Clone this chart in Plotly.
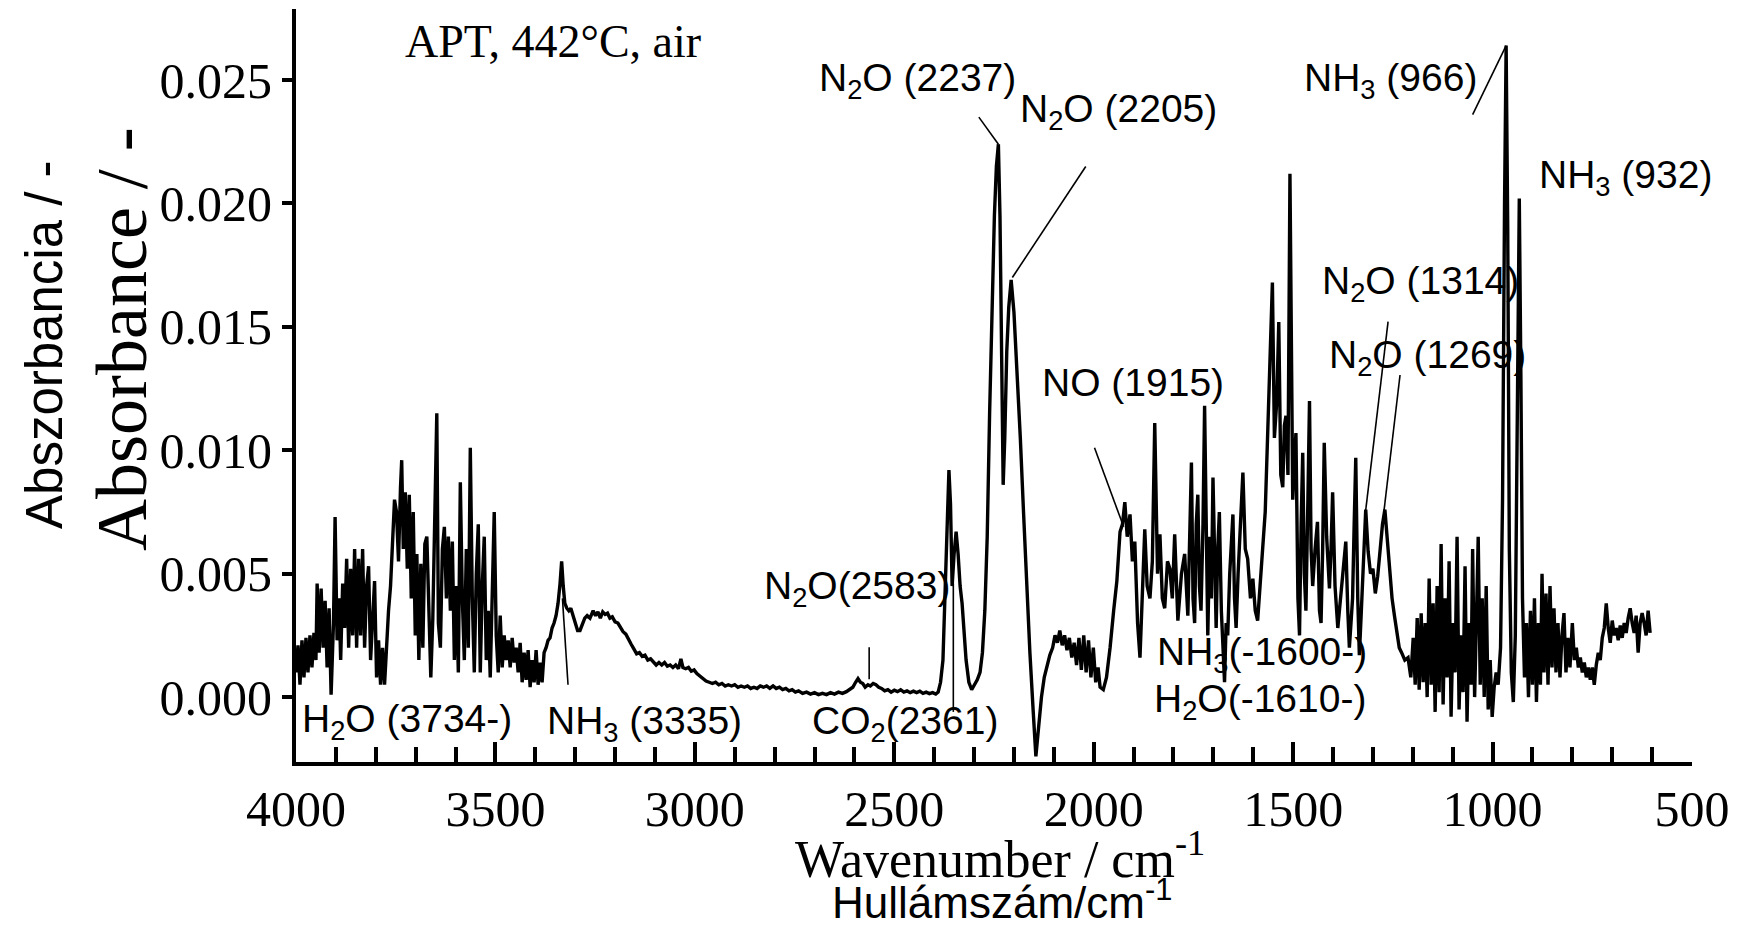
import plotly.graph_objects as go

# ---------------- data ----------------
# wavenumber / cm-1 and absorbance in units of 1e-3
wn_a = [4000, 3995, 3990, 3985, 3980, 3975, 3970, 3965, 3960, 3955, 3950, 3947, 3942, 3937, 3932,
        3927, 3922, 3917, 3912, 3906, 3902, 3897, 3892, 3888, 3883, 3878, 3873, 3868, 3863, 3858,
        3853, 3848, 3843, 3838, 3833, 3828, 3823, 3818, 3813, 3808, 3803, 3798, 3793, 3788, 3783,
        3778, 3773, 3768, 3763, 3758, 3753, 3748, 3743, 3738, 3735, 3731, 3726, 3721, 3716, 3711,
        3706, 3701, 3697, 3692, 3687, 3682, 3677, 3672, 3667, 3662, 3657, 3652, 3647, 3643, 3638,
        3633, 3628, 3623, 3618, 3613, 3608, 3603, 3598, 3593, 3588, 3583, 3578, 3573, 3568, 3563,
        3558, 3553, 3548, 3543, 3538, 3533, 3528, 3523, 3518, 3513, 3508, 3503, 3498, 3493, 3488,
        3483, 3478, 3473, 3468, 3463, 3458, 3453, 3448, 3443, 3438, 3433, 3428, 3423, 3418, 3413,
        3408, 3403, 3398, 3393, 3388, 3383, 3378, 3373, 3368, 3363, 3358, 3353, 3348, 3343, 3338,
        3334, 3330, 3326, 3321, 3316, 3311, 3305, 3300, 3294, 3288, 3282, 3276, 3270, 3263]
ab_a = [1.0, 2.1, 0.5, 2.3, 0.8, 2.4, 1.0, 2.5, 1.2, 2.6, 1.5, 4.6, 1.8, 4.4, 2.0,
        3.9, 1.2, 3.6, 0.1, 3.0, 7.3, 2.3, 4.0, 1.5, 4.6, 2.8, 5.6, 2.0, 5.2, 2.5,
        6.0, 2.0, 5.6, 2.5, 6.0, 2.0, 4.5, 5.3, 1.5, 3.5, 4.7, 0.8, 2.3, 0.5, 2.0,
        0.5, 2.2, 3.5, 4.5, 6.5, 8.0, 7.5, 5.5, 8.5, 9.6, 6.0, 8.3, 5.2, 8.2, 4.0,
        7.5, 2.5, 5.8, 1.5, 5.4, 2.0, 6.2, 6.5, 3.0, 0.8, 3.2, 8.0, 11.5, 3.0, 2.0,
        6.0, 6.9, 4.0, 6.5, 3.5, 6.3, 1.5, 4.5, 1.0, 8.7, 4.0, 1.5, 6.0, 2.0, 10.1,
        4.0, 1.0, 5.0, 7.0, 1.0, 4.5, 6.5, 1.5, 3.5, 0.8, 5.0, 7.5, 2.5, 1.0, 3.3,
        1.2, 2.5, 1.5, 2.3, 1.2, 2.4, 1.4, 2.0, 1.0, 2.2, 0.6, 1.8, 0.7, 1.9, 0.4,
        1.5, 0.6, 1.9, 0.5, 1.4, 0.6, 1.8, 2.0, 2.3, 2.4, 2.8, 3.0, 3.3, 3.8, 4.6,
        5.5, 4.5, 3.8, 3.6, 3.5, 3.6, 3.3, 3.0, 2.7, 2.7, 3.0, 3.2, 3.3, 3.2]

wn_b = [3255, 3249, 3243, 3237, 3231, 3225, 3219, 3213, 3207, 3200, 3193, 3186, 3180, 3173, 3166,
        3160, 3153, 3146, 3139, 3132, 3125, 3118, 3111, 3104, 3097, 3090, 3083, 3076, 3069, 3062,
        3055, 3048, 3041, 3035, 3030, 3023, 3016, 3009, 3002, 2995, 2988, 2980, 2972, 2964, 2956,
        2948, 2940, 2932, 2924, 2916, 2908, 2900, 2892, 2884, 2876, 2868, 2860, 2852, 2844, 2836,
        2828, 2820, 2812, 2804, 2796, 2788, 2780, 2772, 2764, 2756, 2748, 2740, 2730, 2720, 2710,
        2700, 2690, 2680, 2670, 2660, 2650, 2640, 2630, 2620, 2612, 2604, 2597, 2591, 2585, 2579,
        2573, 2566, 2560, 2553, 2546, 2539, 2532, 2524, 2516, 2508, 2500, 2492, 2484, 2476, 2468,
        2460, 2452, 2444, 2436, 2428, 2420, 2412, 2404, 2396, 2390]
ab_b = [3.5, 3.3, 3.45, 3.2, 3.45, 3.35, 3.4, 3.2, 3.25, 3.05, 3.0, 2.8, 2.65, 2.55, 2.3,
        2.15, 1.95, 1.75, 1.8, 1.65, 1.7, 1.5, 1.55, 1.4, 1.3, 1.4, 1.3, 1.4, 1.25, 1.3,
        1.2, 1.3, 1.15, 1.55, 1.2, 1.15, 1.2, 1.05, 1.1, 0.95, 0.85, 0.75, 0.65, 0.6, 0.55,
        0.6, 0.5, 0.55, 0.45, 0.5, 0.45, 0.5, 0.4, 0.45, 0.4, 0.45, 0.35, 0.4, 0.35, 0.45,
        0.4, 0.45, 0.35, 0.45, 0.35, 0.4, 0.3, 0.35, 0.25, 0.3, 0.2, 0.25, 0.15, 0.2, 0.12,
        0.18, 0.1, 0.15, 0.1, 0.18, 0.12, 0.2, 0.15, 0.22, 0.3, 0.4, 0.6, 0.75, 0.6, 0.55,
        0.4, 0.5, 0.45, 0.55, 0.5, 0.4, 0.35, 0.25, 0.3, 0.2, 0.28, 0.22, 0.3, 0.2, 0.25,
        0.18, 0.24, 0.18, 0.24, 0.15, 0.2, 0.14, 0.18, 0.12, 0.2]

wn_c = [2384, 2378, 2373, 2368, 2363, 2359, 2355, 2350, 2345, 2340, 2335, 2330, 2325, 2320, 2313,
        2306, 2299, 2292, 2285, 2279, 2273, 2267, 2261, 2255, 2249, 2244, 2239, 2235, 2231, 2227,
        2223, 2218, 2213, 2207, 2200, 2192, 2184, 2176, 2168, 2160, 2152, 2145, 2138, 2131, 2124,
        2117, 2110, 2103, 2097, 2091, 2085, 2079, 2073, 2067, 2061, 2055, 2049, 2043, 2037, 2031,
        2025, 2019, 2013, 2007, 2001, 1995, 1989]
ab_c = [0.6, 1.5, 4.0, 7.5, 9.2, 7.8, 4.5, 5.8, 6.7, 5.8, 4.5, 3.8, 2.5, 1.5, 0.6,
        0.3, 0.5, 0.7, 1.0, 1.8, 3.5, 6.5, 11.5, 16.0, 19.5, 21.5, 22.4, 19.5, 14.0, 8.6,
        10.5, 14.0, 15.8, 16.9, 15.6, 13.2, 10.5, 7.5, 4.5, 1.8, -0.5, -2.4, -1.2, 0.0, 0.8,
        1.3, 1.7, 2.0, 2.5, 2.2, 2.7, 2.1, 2.5, 1.9, 2.4, 1.6, 2.2, 1.3, 2.4, 1.1,
        2.5, 1.0, 2.3, 0.8, 2.0, 0.6, 1.2]

wn_d = [1984, 1976, 1968, 1959, 1950, 1942, 1934, 1928, 1922, 1916, 1909, 1903, 1897, 1890, 1884,
        1878, 1872, 1866, 1859, 1853, 1847, 1840, 1834, 1828, 1822, 1815, 1809, 1803, 1797, 1789,
        1780, 1772, 1764, 1755, 1751, 1747, 1743, 1739, 1735, 1731, 1726, 1722, 1718, 1714, 1709,
        1705, 1701, 1697, 1693, 1689, 1685, 1680, 1676, 1672, 1668, 1664, 1659, 1655, 1651, 1647,
        1643, 1638, 1632, 1626, 1620, 1614, 1607, 1601, 1595, 1589, 1583, 1576, 1570, 1564, 1559,
        1552, 1547, 1541, 1536, 1531, 1526, 1522, 1518, 1513, 1508, 1504, 1501, 1497, 1493, 1488,
        1484, 1480, 1476, 1472, 1468, 1463, 1459, 1455, 1451, 1445, 1439, 1434, 1430, 1426, 1422,
        1416, 1409, 1405, 1401, 1395, 1388, 1384, 1380, 1374, 1368, 1363, 1359, 1355, 1351, 1347,
        1343, 1338, 1334, 1329, 1324, 1318, 1312, 1306, 1300, 1294, 1288, 1282, 1276, 1270, 1264,
        1258, 1252, 1246, 1240]
ab_d = [0.4, 0.3, 0.8, 2.0, 3.5, 4.7, 6.7, 7.0, 7.9, 6.5, 7.4, 5.5, 6.3, 3.0, 1.6,
        4.0, 6.8, 4.5, 4.0, 5.5, 11.1, 5.0, 6.6, 4.0, 3.6, 5.5, 5.2, 4.0, 6.6, 3.1,
        5.0, 5.8, 3.3, 9.5, 4.0, 3.0, 7.0, 8.2, 4.5, 3.5, 7.0, 11.8, 6.0, 2.5, 6.5,
        4.0, 8.9, 5.0, 2.8, 6.0, 7.5, 3.5, 2.0, 0.6, 3.0, 2.5, 5.0, 6.0, 7.4, 4.0,
        2.8, 5.0, 7.0, 9.1, 6.0, 5.6, 4.0, 4.8, 3.5, 3.1, 4.5, 6.0, 7.5, 10.6, 13.0,
        16.8, 10.5, 12.0, 15.2, 9.0, 8.5, 11.0, 11.4, 9.0, 21.2, 12.0, 8.0, 9.5, 10.7, 4.0,
        2.5, 7.0, 9.9, 5.0, 3.5, 8.0, 12.0, 6.0, 4.5, 6.0, 7.1, 3.5, 3.0, 6.0, 10.3,
        6.5, 4.4, 6.0, 8.3, 4.5, 2.8, 3.5, 4.2, 5.0, 6.3, 3.5, 2.0, 3.0, 4.0, 7.0,
        9.7, 4.0, 1.7, 3.5, 5.5, 7.6, 5.9, 5.0, 5.2, 4.2, 4.9, 6.0, 7.0, 7.6, 6.5,
        5.4, 4.0, 3.3, 2.6]

wn_e = [1234, 1228, 1220, 1212, 1205, 1199, 1194, 1189, 1184, 1179, 1174, 1169, 1164, 1159, 1154,
        1149, 1144, 1139, 1134, 1129, 1124, 1119, 1114, 1109, 1104, 1099, 1094, 1089, 1084, 1079,
        1074, 1069, 1064, 1059, 1054, 1050, 1045, 1040, 1036, 1031, 1026, 1021, 1016, 1011, 1006,
        1001, 996, 991, 986, 980, 975, 970, 966, 962, 958, 953, 948, 943, 938, 933,
        929, 925, 920, 915, 910, 905, 900, 895, 890, 885, 880, 876, 871, 866, 861,
        856, 851, 846, 841, 836, 831, 826, 821, 816, 811, 806, 800, 795, 790, 785,
        780, 775, 770, 765, 760, 755, 750, 745, 740, 735, 730, 725, 720, 715, 710,
        705, 700, 695, 690, 685, 680, 675, 670, 665, 660, 655, 650, 645, 640, 635,
        630, 625, 620, 615, 610, 605]
ab_e = [2.0, 1.8, 1.5, 1.6, 0.8, 2.4, 0.5, 3.2, 0.3, 3.4, 0.6, 3.0, 0.0, 4.8, 0.5,
        3.8, -0.6, 4.5, 0.2, 6.2, -0.3, 4.0, 0.8, 5.5, -0.8, 3.0, 1.0, 6.5, -0.5, 2.5,
        0.2, 5.3, -1.0, 3.0, 0.5, 6.0, 0.0, 3.5, 6.5, 0.5, 4.0, 0.0, 4.5, -0.5, 1.5,
        -0.8, 0.4, 1.0, 0.5, 2.0, 8.0, 20.0, 26.4, 19.0, 6.0, 1.0, -0.2, 2.5, 12.0, 20.2,
        13.0, 4.0, 0.8, 3.0, 0.0, 3.5, 0.5, 4.0, -0.2, 3.0, 0.5, 5.0, 1.0, 4.2, 0.5,
        4.5, 1.2, 3.6, 1.0, 3.0, 0.8, 2.5, 3.4, 1.0, 2.4, 1.2, 3.0, 1.5, 2.0, 1.2,
        1.6, 1.0, 1.4, 0.8, 1.2, 0.7, 1.2, 0.5, 1.3, 1.8, 1.5, 2.4, 2.8, 3.8, 2.8,
        2.2, 3.1, 2.5, 2.8, 2.3, 2.9, 2.4, 3.0, 2.6, 3.2, 3.6, 3.0, 2.6, 3.3, 1.8,
        3.0, 3.4, 3.0, 2.5, 3.5, 2.6]

wavenumber = wn_a + wn_b + wn_c + wn_d + wn_e
absorbance = [v / 1000.0 for v in (ab_a + ab_b + ab_c + ab_d + ab_e)]

# x / y tick values
x_ticks = [4000, 3500, 3000, 2500, 2000, 1500, 1000, 500]
y_ticks = [0.000, 0.005, 0.010, 0.015, 0.020, 0.025]

# peak labels: text, wavenumber of left edge, absorbance of centre
label_text = ["N<sub>2</sub>O (2237)", "N<sub>2</sub>O (2205)", "NH<sub>3</sub> (966)",
              "NH<sub>3</sub> (932)", "N<sub>2</sub>O (1314)", "N<sub>2</sub>O (1269)",
              "NO (1915)", "NH<sub>3</sub>(-1600-)", "H<sub>2</sub>O(-1610-)",
              "N<sub>2</sub>O(2583)", "CO<sub>2</sub>(2361)", "H<sub>2</sub>O (3734-)",
              "NH<sub>3</sub> (3335)"]
label_wn = [2693, 2190, 1479, 888, 1432, 1415, 2134, 1847, 1855, 2832, 2712, 3989, 3375]
label_ab = [0.0250, 0.02374, 0.0250, 0.02104, 0.01677, 0.01376, 0.01273, 0.00171, -0.00018,
            0.00441, -0.00108, -0.00099, -0.00108]

# leader lines: (wn start, wn end), (abs start, abs end)
leader_wn = [(2288, 2239), (2020, 2204), (1050, 966), (1262, 1318), (1232, 1272),
             (1998, 1925), (2563, 2563), (2352, 2352), (3332, 3318)]
leader_ab = [(0.0235, 0.0224), (0.0215, 0.0170), (0.0236, 0.0264), (0.01521, 0.00758),
             (0.01305, 0.00758), (0.0101, 0.0069), (0.00202, 0.00072), (0.0046, -0.0006),
             (0.0040, 0.0005)]

# ---------------- figure ----------------
SERIF = "Liberation Serif, Times New Roman, serif"
SANS = "Liberation Sans, Arial, sans-serif"

W, H = 1744, 931
L, R, T, B = 296, 52, 9, 169
pw, ph = W - L - R, H - T - B


def px(x):
    return (x - L) / pw


def py(y):
    return (H - B - y) / ph


fig = go.Figure()
fig.add_trace(go.Scatter(x=wavenumber, y=absorbance, mode="lines",
                         line=dict(color="black", width=3.4), hoverinfo="skip",
                         showlegend=False))
for (x0, x1), (y0, y1) in zip(leader_wn, leader_ab):
    fig.add_trace(go.Scatter(x=[x0, x1], y=[y0, y1], mode="lines",
                             line=dict(color="black", width=1.6), hoverinfo="skip",
                             showlegend=False))

ann = []
for t, x, y in zip(label_text, label_wn, label_ab):
    ann.append(dict(x=x, y=y, xref="x", yref="y", text=t, showarrow=False,
                    xanchor="left", yanchor="middle",
                    font=dict(family=SANS, size=39, color="black")))

ann += [
    dict(x=px(403), y=py(42), xref="paper", yref="paper", text="APT, 442°C, air",
         showarrow=False, xanchor="left", yanchor="middle",
         font=dict(family=SERIF, size=46, color="black")),
    dict(x=px(1000), y=py(856), xref="paper", yref="paper",
         text="Wavenumber / cm<sup>-1</sup>", showarrow=False, xanchor="center",
         yanchor="middle", font=dict(family=SERIF, size=52, color="black")),
    dict(x=px(1002), y=py(899), xref="paper", yref="paper",
         text="Hullámszám/cm<sup>-1</sup>", showarrow=False, xanchor="center",
         yanchor="middle", font=dict(family=SANS, size=44, color="black")),
    dict(x=px(122), y=py(339), xref="paper", yref="paper", text="Absorbance / -",
         showarrow=False, textangle=-90, xanchor="center", yanchor="middle",
         font=dict(family=SERIF, size=72, color="black")),
    dict(x=px(44), y=py(345), xref="paper", yref="paper", text="Abszorbancia / -",
         showarrow=False, textangle=-90, xanchor="center", yanchor="middle",
         font=dict(family=SANS, size=51, color="black")),
]

fig.update_layout(
    width=W, height=H, autosize=False,
    margin=dict(l=L, r=R, t=T, b=B, pad=0),
    paper_bgcolor="white", plot_bgcolor="white",
    annotations=ann, showlegend=False,
    xaxis=dict(range=[4000, 500], tickvals=x_ticks, ticktext=[str(v) for v in x_ticks],
               ticks="inside", ticklen=20, tickwidth=4, tickcolor="black",
               minor=dict(dtick=100, ticks="inside", ticklen=15, tickwidth=4,
                          tickcolor="black", showgrid=False),
               showline=True, linewidth=4, linecolor="black", showgrid=False,
               zeroline=False, tickfont=dict(family=SERIF, size=50, color="black")),
    yaxis=dict(range=[-0.00263, 0.02788], tickvals=y_ticks,
               ticktext=["%.3f" % v for v in y_ticks],
               ticks="outside", ticklen=10, tickwidth=3.5, tickcolor="black",
               showline=True, linewidth=4, linecolor="black", showgrid=False,
               zeroline=False, tickfont=dict(family=SERIF, size=50, color="black")),
)

fig.write_html("out.html")
